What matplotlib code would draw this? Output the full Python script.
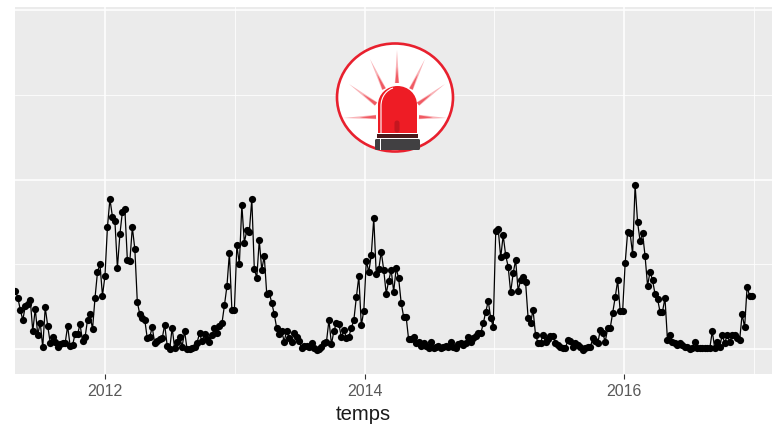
#!/usr/bin/env python3
import matplotlib

matplotlib.use("Agg")
import matplotlib.dates as mdates
import matplotlib.pyplot as plt
import numpy as np
import pandas as pd
from matplotlib.patches import Ellipse, Polygon, Rectangle, FancyBboxPatch
from matplotlib.path import Path
from matplotlib.patches import PathPatch

# y axis has no labels in the picture, values are read in arbitrary units
debut = "2011-04-25"
valeurs_2011 = [175, 154, 117, 87, 129, 134, 147, 53, 121, 42, 79, 5, 125, 69, 19, 35, 22, 5, 15, 17,
                17, 69, 10, 12, 45, 45, 74, 23, 35, 87, 104, 59, 153, 231, 254, 160]
valeurs_2012 = [219, 366, 450, 397, 384, 243, 344, 412, 419, 268, 264, 365, 300, 141, 104, 92, 87, 32,
                37, 65, 17, 25, 30, 32, 73, 10, -1, 64, 2, 22, 37, 7, 53, -1, -1, 2, 5, 19, 47, 23,
                45, 29, 22, 42, 62, 47, 69, 77, 131, 188, 288, 117, 117, 311, 255, 432, 319, 357, 352, 450]
valeurs_2013 = [241, 214, 326, 237, 279, 165, 169, 139, 105, 63, 45, 55, 22, 55, 32, 22, 47, 37, 25, 2,
                10, 9, 7, 17, 2, -3, 0, 7, 19, 22, 87, 14, 55, 77, 74, 35, 57, 34, 37, 63, 87, 155,
                218, 71, 115, 265, 231, 282, 392, 224, 239, 292, 237, 166, 205, 237, 172, 242, 212, 139]
valeurs_2014 = [97, 97, 29, 29, 37, 17, 22, 10, 19, 9, 2, 22, 2, 5, 9, 2, 7, 9, 7, 22, 5, 2, 15, 19, 12,
                17, 35, 22, 32, 39, 47, 47, 77, 112, 144, 92, 67, 354, 359, 275, 341, 281, 247, 170,
                227, 267, 175, 207, 215, 200, 94, 79, 117, 42, 19, 19, 42, 22, 29, 39, 40]
valeurs_2015 = [19, 11, 5, 2, 2, 27, 25, 5, 17, 12, 5, -3, 2, 5, 5, 32, 25, 17, 57, 47, 22, 63, 63, 109,
                155, 206, 114, 115, 257, 351, 347, 285, 492, 380, 324, 347, 279, 190, 231, 207, 165,
                151, 112, 112, 153, 27, 42, 22, 17, 12, 19, 12, 7, 7, 0, 2, 22, 2, 2, 2, 2, 2, 2, 53,
                2, 22, 7, 42, 17, 42, 22, 42, 42, 32, 27, 104, 65, 187, 159, 159]
valeurs = np.array(valeurs_2011 + valeurs_2012 + valeurs_2013 + valeurs_2014 + valeurs_2015)
temps = pd.date_range(debut, periods=len(valeurs), freq="7D")

annees_majeures = ["2012", "2014", "2016"]
annees_mineures = ["2013", "2015", "2017"]
y_majeur = [0, 508, 1016]
y_mineur = [254, 762]

plt.rcParams["font.family"] = ["Liberation Sans", "DejaVu Sans"]

fig = plt.figure(figsize=(7.73, 4.26), dpi=100)
W, H = 773, 426
ax = fig.add_axes([15 / W, 1 - 374 / H, (772 - 15) / W, (374 - 7) / H])
ax.set_facecolor("#EBEBEB")
for s in ax.spines.values():
    s.set_visible(False)

ax.plot(temps, valeurs, color="black", lw=0.9, marker="o", ms=5.2, mew=0, zorder=3)

ax.set_xlim(pd.Timestamp("2011-04-24"), pd.Timestamp("2017-02-20"))
ax.set_ylim(-75, 1026)
ax.set_xticks([mdates.date2num(pd.Timestamp(a + "-01-01")) for a in annees_majeures])
ax.set_xticklabels(annees_majeures)
ax.set_xticks([mdates.date2num(pd.Timestamp(a + "-01-01")) for a in annees_mineures], minor=True)
ax.set_yticks(y_majeur)
ax.set_yticks(y_mineur, minor=True)
ax.set_yticklabels([])
ax.grid(True, which="major", color="white", lw=1.1, zorder=1)
ax.grid(True, which="minor", color="white", lw=0.55, zorder=1)
ax.set_axisbelow(True)
ax.tick_params(axis="x", which="major", length=3.5, width=0.8, color="#333333", labelcolor="#595959",
               labelsize=11.5, pad=4)
ax.tick_params(axis="x", which="minor", length=0)
ax.tick_params(axis="y", which="both", length=0)
ax.set_xlabel("temps", fontsize=14.6, color="#1a1a1a", labelpad=4, x=(363 - 15) / (772 - 15))

# icone gyrophare, dessinee en pixels au dessus du graphique
ic = fig.add_axes([0, 0, 1, 1])
ic.set_xlim(0, W)
ic.set_ylim(H, 0)
ic.axis("off")
ic.patch.set_alpha(0)

ic.add_patch(Ellipse((395, 97.5), 116, 108, fc="white", ec="#E8202E", lw=1.9, zorder=2))

rayons = [((397, 50), (397, 83)), ((370, 59), (384, 89)), ((425, 59), (411, 89)),
          ((349, 84), (376, 104)), ((445, 84), (418, 104)), ((343, 118), (376, 117)),
          ((447, 118), (419, 117))]
for tip, base in rayons:
    tip = np.array(tip, float)
    base = np.array(base, float)
    d = base - tip
    n = np.array([-d[1], d[0]]) / np.hypot(*d)
    ic.add_patch(Polygon([tip, base + n * 2.2, base - n * 2.2], fc="#F9B4B8", ec="none", zorder=3))
    mid = tip + d * 0.5
    ic.add_patch(Polygon([mid, base + n * 1.7, base - n * 1.7], fc="#F05A63", ec="none", zorder=3))

dome = Path([(378, 133), (378, 105), (378, 94), (387, 86), (397.5, 86), (408, 86), (417, 94), (417, 105),
             (417, 133), (378, 133)],
            [Path.MOVETO, Path.LINETO, Path.CURVE4, Path.CURVE4, Path.CURVE4, Path.CURVE4, Path.CURVE4,
             Path.CURVE4, Path.LINETO, Path.CLOSEPOLY])
ic.add_patch(PathPatch(dome, fc="#EE1C25", ec="none", zorder=4))
reflet = Path([(381, 133), (381, 106), (381, 96), (387, 90), (393, 88)],
              [Path.MOVETO, Path.LINETO, Path.CURVE4, Path.CURVE4, Path.CURVE4])
ic.add_patch(PathPatch(reflet, fc="none", ec="white", lw=0.8, zorder=5))
ic.add_patch(FancyBboxPatch((394.5, 120.5), 5, 12, boxstyle="round,pad=0,rounding_size=2.4",
                            fc="#C4161F", ec="none", zorder=5))
ic.add_patch(Rectangle((377, 134), 41, 3.5, fc="#4A1A1C", ec="none", zorder=5))
ic.add_patch(FancyBboxPatch((375, 139), 45, 11, boxstyle="round,pad=0,rounding_size=1.5",
                            fc="#414042", ec="none", zorder=5))
ic.add_patch(Rectangle((380, 139), 1.3, 11, fc="white", ec="none", zorder=6))

plt.savefig("out.png", dpi=100)
